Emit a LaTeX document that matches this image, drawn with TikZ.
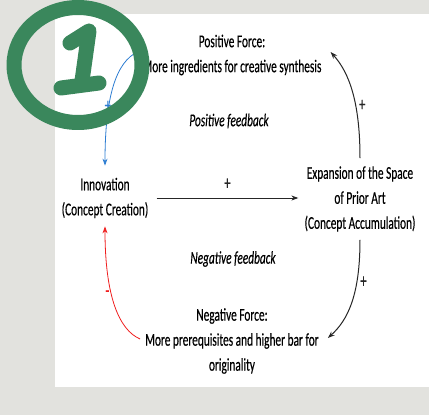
\documentclass[tikz,border=0pt]{standalone}
\usepackage{fontspec}
\usetikzlibrary{arrows.meta}
\newfontfamily\cf[FakeStretch=0.63,FakeBold=0.35]{Carlito}
\definecolor{bgc}{RGB}{226,226,222}
\definecolor{ringc}{RGB}{58,135,92}
\definecolor{blc}{RGB}{45,125,210}
\definecolor{rdc}{RGB}{240,30,30}
\begin{document}
\begin{tikzpicture}[x=1pt,y=-1pt,
  txt/.style={font=\cf\fontsize{18}{25}\selectfont, align=center, inner sep=0pt},
  itx/.style={font=\cf\itshape\fontsize{18}{25}\selectfont, inner sep=0pt},
  sgn/.style={font=\cf\fontsize{20}{22}\selectfont, inner sep=0pt},
  tip/.style={-{Stealth[length=7pt,width=5pt]}},
  blk/.style={tip, line width=1pt, black!85},
  ring/.style={draw=ringc, line width=15pt, line cap=round, line join=round}]
\useasboundingbox (0,0) rectangle (429,415);
\fill[bgc] (0,0) rectangle (429,415);
\fill[white] (55,14) rectangle (429,387);
% texts
\node[txt] (pf) at (232,55) {Positive Force:\\More ingredients for creative synthesis};
\node[itx] (pfb) at (229,121) {Positive feedback};
\node[txt] (inn) at (105,198) {Innovation\\(Concept Creation)};
\node[txt] (exp) at (360,199) {Expansion of the Space\\of Prior Art\\(Concept Accumulation)};
\node[itx] (nfb) at (233,259) {Negative feedback};
\node[txt] (nf) at (232,341) {Negative Force:\\More prerequisites and higher bar for\\originality};
% connectors
\draw[blk] ([xshift=8pt]inn.east) -- ([xshift=-6pt]inn.east -| exp.west) node[sgn, midway, above=8pt] (p1) {+};
\draw[blk] ([yshift=8pt]exp.north) .. controls +(0,-55) and +(19,21) .. ([shift={(9,-3)}]pf.east) node[sgn, pos=0.38, right=3pt] (p2) {+};
\draw[blk] ([yshift=-8pt]exp.south) .. controls +(0,55) and +(20,-18) .. ([shift={(9,-3)}]nf.east) node[sgn, pos=0.3, right=3pt] (p3) {+};
\draw[tip, blc, line width=0.8pt] ([shift={(-5,-3)}]pf.west) .. controls +(-21,10) and +(0,-70) .. ([yshift=12pt]inn.north) node[sgn, blc, pos=0.66, xshift=-1pt] (p4) {+};
\draw[tip, rdc, line width=0.8pt] ([shift={(-5,-2)}]nf.west) .. controls +(-21,-9) and +(0,70) .. ([yshift=-8pt]inn.south) node[sgn, rdc, pos=0.6, xshift=-4pt] (m1) {-};
% circled one
\draw[ring] (78,65) ellipse [x radius=64pt, y radius=57.5pt];
\draw[ring] (70,43) -- (89,31) -- (82,81);
\draw[ring] (61,88) -- (99,83);
\end{tikzpicture}
\end{document}
